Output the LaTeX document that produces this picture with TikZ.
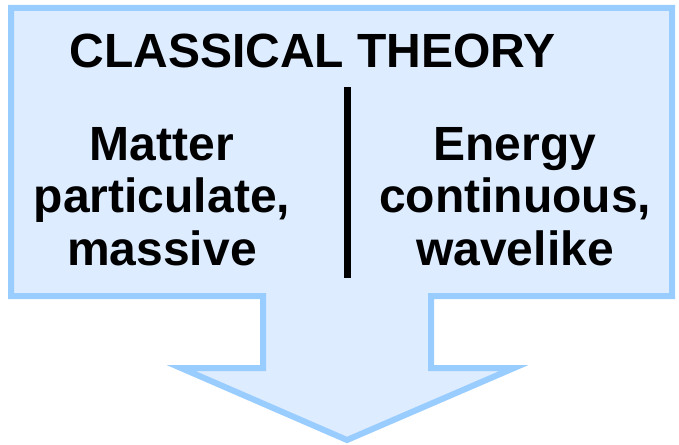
\documentclass[tikz,border=0pt]{standalone}
\usepackage{xcolor}
\usepackage{fontspec}
\setmainfont{Liberation Sans}
\usepackage{tikz}
\usetikzlibrary{positioning, calc}
\definecolor{myblue}{RGB}{153,204,255}
\definecolor{hdrblue}{RGB}{221,236,255}
\tikzset{
  calloutbox/.style={draw=myblue, fill=hdrblue, line width=6pt, line join=miter},
  headtxt/.style={font=\fontsize{48}{52.5}\selectfont\bfseries, inner sep=0pt, anchor=base},
  coltxt/.style={font=\fontsize{48}{52.5}\selectfont\bfseries, align=center, inner sep=0pt, anchor=base},
  divider/.style={line width=7pt, color=black}
}
\begin{document}
\begin{tikzpicture}[x=1pt, y=-1pt]
  \useasboundingbox (0,0) rectangle (679,444);

  % Draw box with down arrow
  \draw[calloutbox] (11,8) -- (672,8) -- (672,296) -- (431,296) -- (431,368)
    -- (514,368) -- (347,440) -- (181,368) -- (263,368) -- (263,296)
    -- (11,296) -- cycle;

  % Heading
  \node[headtxt] (head) at (312.5,67) {CLASSICAL THEORY};

  % Divider between columns
  \coordinate (divtop) at (347.5,87);
  \coordinate (divbot) at (347.5,278);
  \draw[divider] (divtop) -- (divbot);

  % Columns (base anchor sits on the last line)
  \node[coltxt] (matter) at (162,265) {Matter\\particulate,\\massive};
  \node[coltxt] (energy) at (515,265) {Energy\\continuous,\\wavelike};
\end{tikzpicture}
\end{document}
